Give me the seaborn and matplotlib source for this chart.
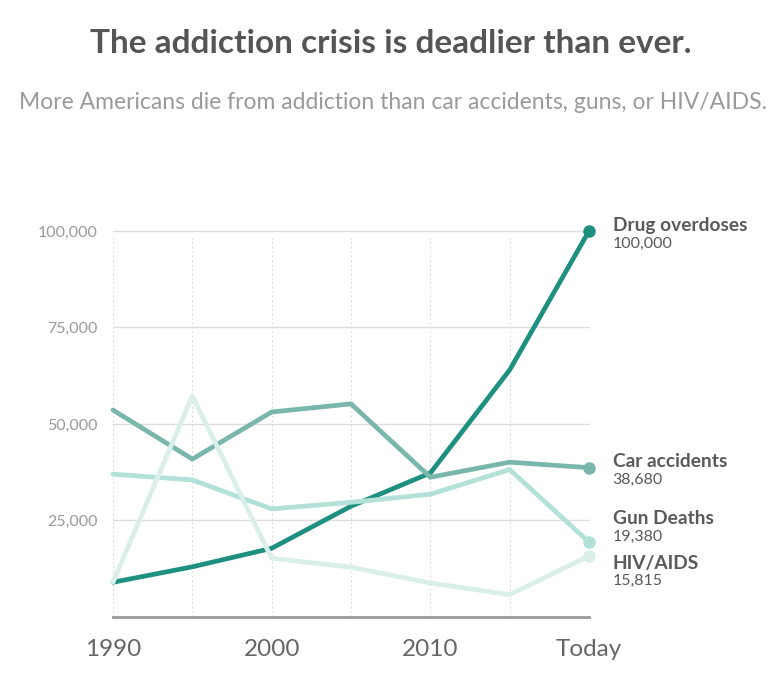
import matplotlib

matplotlib.use("Agg")

import matplotlib.pyplot as plt  # noqa: E402
import pandas as pd  # noqa: E402
import seaborn as sns  # noqa: E402

# --- Data ------------------------------------------------------------------
periods = ["1990", "1995", "2000", "2005", "2010", "2015", "Today"]
tick_labels = ["1990", "2000", "2010", "Today"]
series_names = ["Drug overdoses", "Car accidents", "Gun Deaths", "HIV/AIDS"]

drug_overdoses = [9000, 13000, 17800, 28700, 37300, 64000, 100000]
car_accidents = [53600, 40900, 53100, 55200, 36200, 40100, 38680]
gun_deaths = [37000, 35500, 28000, 29700, 31800, 38200, 19380]
hiv_aids = [9000, 57300, 15200, 12900, 8800, 5800, 15815]

y_ticks = [25000, 50000, 75000, 100000]

colors = ["#1e9080", "#79b6ab", "#b2e1d7", "#daefea"]
# vertical nudges (data units) for the end labels so they don't collide
label_nudge = [-1000, -700, 3800, -4250]

values = [drug_overdoses, car_accidents, gun_deaths, hiv_aids]
df = pd.DataFrame(
    {
        "x": list(range(len(periods))) * len(series_names),
        "deaths": [v for vals in values for v in vals],
        "series": [s for s in series_names for _ in periods],
    }
)

sns.set_theme(style="white")
plt.rcParams["font.family"] = ["Lato", "DejaVu Sans"]

fig = plt.figure(figsize=(7.81, 6.96), dpi=100)
ax = fig.add_axes([0.1447, 0.1135, 0.6095, 0.5547])

# gridlines first so the series draw over them
for yv in y_ticks:
    ax.axhline(yv, color="#dddddd", lw=1, zorder=0)
ax.vlines(range(len(periods)), 0, 98500, colors="#d8d8d8", lw=0.8,
          linestyles=(0, (1.5, 2.5)), zorder=0)

# draw lightest first so the dark series sits on top
sns.lineplot(
    data=df.iloc[::-1], x="x", y="deaths", hue="series",
    hue_order=series_names, palette=colors, linewidth=3.4,
    legend=False, ax=ax, estimator=None, sort=False,
)
for line in ax.lines:
    line.set_clip_on(False)

last = df[df["x"] == len(periods) - 1]
for name, color, nudge in zip(series_names, colors, label_nudge):
    yv = last.loc[last["series"] == name, "deaths"].iloc[0]
    ax.plot(len(periods) - 1, yv, "o", color=color, ms=8, clip_on=False, zorder=5)
    ax.annotate(name, (len(periods) - 1, yv + nudge), xytext=(17, 6.5),
                textcoords="offset points", fontsize=13.8, fontweight="bold",
                color="#5a5a5a", va="center", ha="left", annotation_clip=False)
    ax.annotate(f"{yv:,}", (len(periods) - 1, yv + nudge), xytext=(17, -6.5),
                textcoords="offset points", fontsize=11.5,
                color="#5a5a5a", va="center", ha="left", annotation_clip=False)

ax.set_xlim(0, len(periods) - 1)
ax.set_ylim(0, 100000)
ax.set_xticks([periods.index(t) for t in tick_labels])
ax.set_xticklabels(tick_labels, fontsize=17.5, color="#666666")
ax.set_yticks(y_ticks)
ax.set_yticklabels([f"{v:,}" for v in y_ticks], fontsize=11.5, color="#9a9a9a")
ax.tick_params(axis="x", length=0, pad=16)
ax.tick_params(axis="y", length=0, pad=11)
ax.set_xlabel("")
ax.set_ylabel("")
for side in ["top", "right", "left"]:
    ax.spines[side].set_visible(False)
ax.spines["bottom"].set_color("#999999")
ax.spines["bottom"].set_linewidth(2)

fig.text(0.5, 0.938, "The addiction crisis is deadlier than ever.", ha="center",
         va="center", fontsize=24, fontweight="bold", color="#555555")
fig.text(0.503, 0.853, "More Americans die from addiction than car accidents, guns, or HIV/AIDS.",
         ha="center", va="center", fontsize=16.5, color="#9a9a9a")

fig.savefig("out.png", dpi=100)
